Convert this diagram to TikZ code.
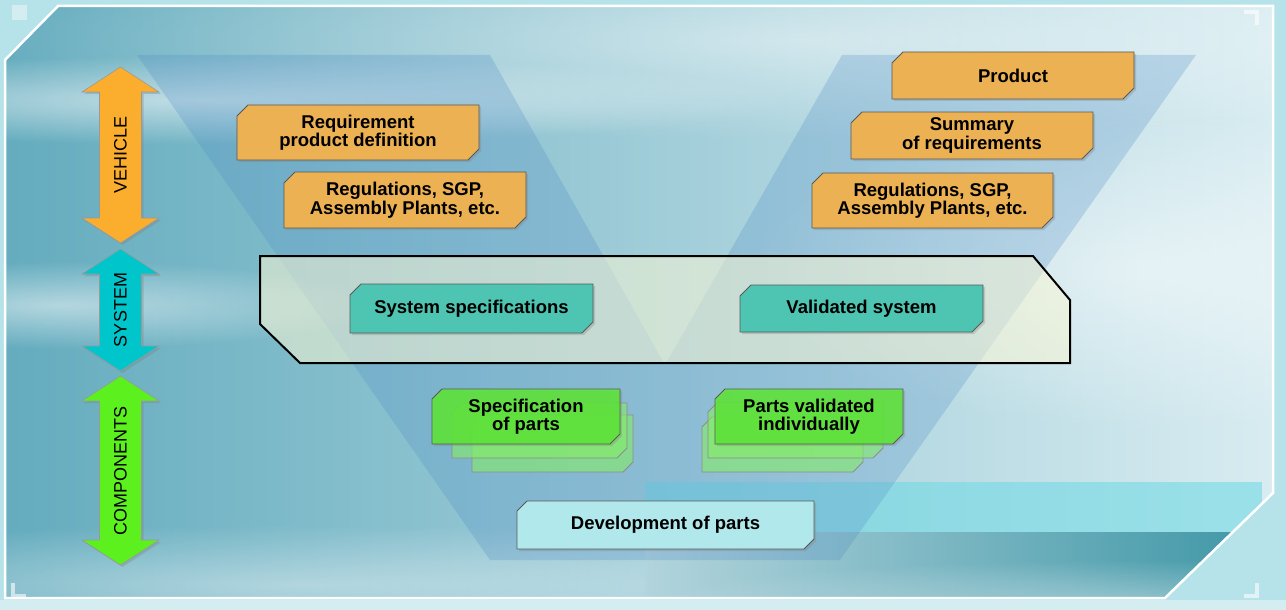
\documentclass[tikz,border=0pt]{standalone}
\usepackage{fontspec}
\setmainfont{Liberation Sans}
\usetikzlibrary{shadows,fadings}
\tikzfading[name=softglow, inner color=transparent!0, outer color=transparent!100]
\definecolor{outerbg}{RGB}{182,226,233}
\definecolor{panelL}{RGB}{100,172,190}
\definecolor{panelR}{RGB}{216,236,241}
\definecolor{vblue}{RGB}{80,140,198}
\definecolor{sysfill}{RGB}{248,246,212}
\definecolor{boxorange}{RGB}{235,177,82}
\definecolor{boxteal}{RGB}{78,197,178}
\definecolor{boxgreen}{RGB}{92,230,52}
\definecolor{boxdev}{RGB}{176,232,236}
\definecolor{arrorange}{RGB}{251,174,46}
\definecolor{arrteal}{RGB}{0,198,204}
\definecolor{arrgreen}{RGB}{92,240,30}
\definecolor{bandcyan}{RGB}{115,218,228}
\definecolor{deepteal}{RGB}{62,150,166}
\definecolor{midteal}{RGB}{178,212,220}
\tikzset{
  boxline/.style={draw=black!65, line width=0.9pt, drop shadow={shadow xshift=2pt, shadow yshift=-2pt, opacity=0.3}},
  orangebox/.style={boxline, fill=boxorange},
  tealbox/.style={boxline, fill=boxteal},
  greenfront/.style={boxline, fill=boxgreen, fill opacity=0.85},
  greenback/.style={draw=black!45, line width=0.8pt, fill=boxgreen!75!white, fill opacity=0.6},
  devbox/.style={boxline, fill=boxdev},
  boxtext/.style={font=\bfseries\fontsize{18.5}{18.5}\selectfont, align=center, text=black, inner sep=0pt},
  armtext/.style={font=\fontsize{18}{18}\selectfont, rotate=90, text=black, inner sep=0pt},
  armshape/.style={draw=black!40, line width=0.6pt, drop shadow={shadow xshift=2pt, shadow yshift=-2pt, opacity=0.35}},
  cornermark/.style={draw=white, opacity=0.6, line width=4pt},
  glow/.style={fill=white, path fading=softglow},
}
% name, x1, y1, x2, y2, chamfer, style, text
\newcommand{\cbox}[8]{%
  \path[#7] (#2,#3+#6) -- (#2+#6,#3) -- (#4,#3) -- (#4,#5-#6) -- (#4-#6,#5) -- (#2,#5) -- cycle;
  \node[boxtext] (#1) at ({(#2+#4)/2},{(#3+#5)/2}) {#8};
}
% name, x1, y1, x2, y2, chamfer, style (no text)
\newcommand{\bbox}[7]{%
  \path[#7] (#2,#3+#6) -- (#2+#6,#3) -- (#4,#3) -- (#4,#5-#6) -- (#4-#6,#5) -- (#2,#5) -- cycle;
}
% name, color, top tip y, bottom tip y, text
\newcommand{\varrow}[5]{%
  \path[armshape, fill=#2] (120.5,#3) -- (159,#3+25) -- (141.5,#3+25) -- (141.5,#4-25) -- (159,#4-25) -- (120.5,#4) -- (82,#4-25) -- (99.5,#4-25) -- (99.5,#3+25) -- (82,#3+25) -- cycle;
  \node[armtext] (#1) at (120.5,{(#3+#4)/2}) {#5};
}
\begin{document}
\begin{tikzpicture}[x=1pt,y=-1pt]
\useasboundingbox (0,0) rectangle (1286,610);
% outer background
\fill[outerbg] (0,0) rectangle (1286,610);
\fill[white, opacity=0.4] (0,600) rectangle (1286,610);
% panel
\shade[left color=panelL, right color=panelR] (58,6) -- (1273,6) -- (1273,493) -- (1165,598) -- (5,598) -- (5,60) -- cycle;
\begin{scope}
  \clip (58,6) -- (1273,6) -- (1273,493) -- (1165,598) -- (5,598) -- (5,60) -- cycle;
  \fill[glow, opacity=0.55] (200,100) ellipse [x radius=600, y radius=44];
  \fill[glow, opacity=0.5] (60,305) ellipse [x radius=320, y radius=44];
  \fill[glow, opacity=0.45] (800,40) ellipse [x radius=840, y radius=100];
  \fill[glow, opacity=0.5] (1150,270) ellipse [x radius=400, y radius=160];
  \fill[glow, opacity=0.4] (300,585) ellipse [x radius=800, y radius=60];
  \shade[left color=midteal, right color=deepteal] (645,532) rectangle (1273,598);
  \fill[glow, opacity=0.35] (1150,600) ellipse [x radius=500, y radius=40];
  \fill[bandcyan, opacity=0.6] (645,482) rectangle (1262,532);
\end{scope}
\draw[white, line width=2.5pt, line join=miter] (58,6) -- (1273,6) -- (1273,493) -- (1165,598) -- (5,598) -- (5,60) -- cycle;
% corner marks
\draw[cornermark] (1244,12) -- (1257,12) -- (1257,25);
\draw[cornermark] (1257,583) -- (1257,596) -- (1244,596);
\draw[cornermark] (13,583) -- (13,596) -- (26,596);
\fill[white, opacity=0.4] (12,5) rectangle (27,20);
% V shape
\fill[vblue, opacity=0.26] (137,55) -- (490,55) -- (665,365) -- (842,55) -- (1196,55) -- (840,560) -- (490,560) -- cycle;
% system band
\path[fill=sysfill, fill opacity=0.55, draw=black, line width=2pt, line join=miter]
  (260,256) -- (1033,256) -- (1070,300) -- (1070,363) -- (300,363) -- (260,324) -- cycle;
% vehicle boxes
\cbox{req}{237}{105}{479}{160}{11}{orangebox}{Requirement\\product definition}
\cbox{regl}{284}{172}{526}{228}{11}{orangebox}{Regulations, SGP,\\Assembly Plants, etc.}
\cbox{prod}{892}{52}{1134}{99}{11}{orangebox}{Product}
\cbox{summ}{851}{112}{1093}{159}{11}{orangebox}{Summary\\of requirements}
\cbox{regr}{812}{173}{1053}{228}{11}{orangebox}{Regulations, SGP,\\Assembly Plants, etc.}
% system boxes
\cbox{sysspec}{350}{284}{593}{333}{11}{tealbox}{System specifications}
\cbox{valsys}{740}{285}{983}{332}{11}{tealbox}{Validated system}
% component boxes
\bbox{specb3}{472}{415}{633}{472}{10}{greenback}
\bbox{specb2}{452}{403}{627}{458}{10}{greenback}
\cbox{spec}{432}{389}{620}{444}{10}{greenfront}{Specification\\of parts}
\bbox{partb3}{702}{417}{863}{472}{10}{greenback}
\bbox{partb2}{708}{402}{883}{458}{10}{greenback}
\cbox{parts}{715}{389}{903}{444}{10}{greenfront}{Parts validated\\individually}
\cbox{dev}{517}{501}{814}{549}{10}{devbox}{Development of parts}
% level arrows
\varrow{vehicle}{arrorange}{67}{243}{VEHICLE}
\varrow{system}{arrteal}{249}{371}{SYSTEM}
\varrow{components}{arrgreen}{376}{565}{COMPONENTS}
\end{tikzpicture}
\end{document}
